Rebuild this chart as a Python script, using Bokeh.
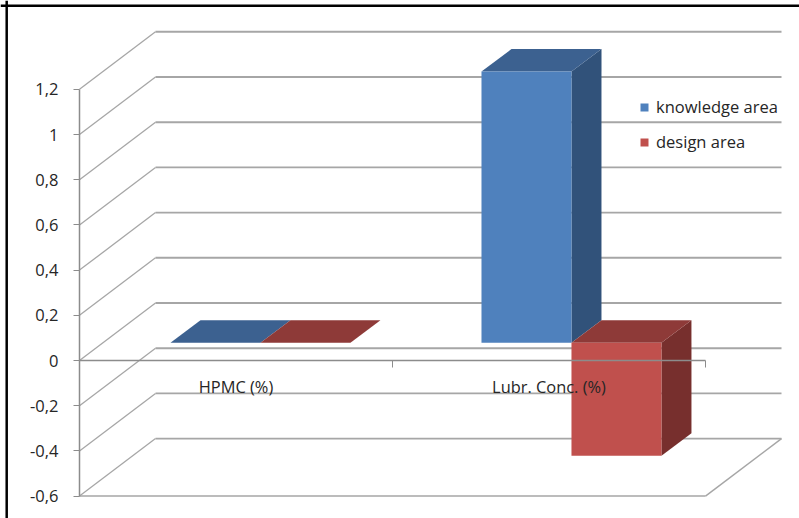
from bokeh.plotting import figure
from bokeh.models import FixedTicker, Range1d, Span, Legend, LegendItem, LinearAxis
from bokeh.embed import file_html
from bokeh.resources import INLINE

categories = ["HPMC (%)", "Lubr. Conc. (%)"]
knowledge_area = [0, 1.2]
design_area = [0, -0.5]
y_ticks = [-0.6, -0.4, -0.2, 0, 0.2, 0.4, 0.6, 0.8, 1, 1.2]
y_labels = ["-0,6", "-0,4", "-0,2", "0", "0,2", "0,4", "0,6", "0,8", "1", "1,2"]

W, H = 799, 518
PX_X = 313.0   # px per category
PX_Y = 226.0   # px per value unit
X0, Y0 = 79.0, 360.0
WALL_DX, WALL_DY = 76 / PX_X, 57.5 / PX_Y
BAR_START, BAR_W, BAR_STEP = 0.2907, 0.2875, 0.9936
BAR_DX, BAR_DY = 30.0 / PX_X, 22.5 / PX_Y
BASE_DY = 17.7 / PX_Y
BLUE, BLUE_TOP, BLUE_SIDE = "#4F81BD", "#3C6190", "#31527A"
RED, RED_TOP, RED_SIDE = "#C0504D", "#8E3A38", "#772F2D"
GRID = "#A6A6A6"
AXIS = "#8C8C8C"
FONT = "Open Sans"

p = figure(width=W, height=H, output_backend="svg", toolbar_location=None,
           x_range=Range1d(-X0 / PX_X, (W - X0) / PX_X),
           y_range=Range1d(-(H - Y0) / PX_Y, Y0 / PX_Y),
           x_axis_location=None, y_axis_location=None,
           min_border=0, margin=(0, 0, 0, 0), background_fill_color="white",
           border_fill_color="white", outline_line_color=None)
p.grid.visible = False

# walls
n = len(categories)
vs = y_ticks
p.segment(x0=[WALL_DX] * len(vs), x1=[n + WALL_DX] * len(vs),
          y0=[v + WALL_DY for v in vs], y1=[v + WALL_DY for v in vs],
          line_color=GRID, line_width=1.9)
p.segment(x0=[0] * len(vs), x1=[WALL_DX] * len(vs), y0=vs,
          y1=[v + WALL_DY for v in vs], line_color=GRID, line_width=1.3)
floor = min(vs)
p.segment(x0=[0, n], x1=[n, n + WALL_DX], y0=[floor, floor],
          y1=[floor, floor + WALL_DY], line_color=GRID, line_width=1.5)


def bar_geom(i, j, v):
    l = i * BAR_STEP + BAR_START + j * BAR_W
    r = l + BAR_W
    b = BASE_DY
    t = b + v
    top = max(b, t)
    bot = min(b, t)
    front = (l, r, top, bot)
    top_face = ([l, r, r + BAR_DX, l + BAR_DX], [top, top, top + BAR_DY, top + BAR_DY])
    side = ([r, r + BAR_DX, r + BAR_DX, r], [bot, bot + BAR_DY, top + BAR_DY, top])
    return front, top_face, side


renderers = []
for j, (vals, c, ct, cs) in enumerate([(knowledge_area, BLUE, BLUE_TOP, BLUE_SIDE),
                                       (design_area, RED, RED_TOP, RED_SIDE)]):
    fronts = [bar_geom(i, j, v) for i, v in enumerate(vals)]
    front = [f[0] for f in fronts]
    p.patches([f[2][0] for f in fronts], [f[2][1] for f in fronts],
              fill_color=cs, line_color=None)
    p.patches([f[1][0] for f in fronts], [f[1][1] for f in fronts],
              fill_color=ct, line_color=None)
    r = p.quad(left=[f[0] for f in front], right=[f[1] for f in front],
               top=[f[2] for f in front], bottom=[f[3] for f in front],
               fill_color=c, line_color=None)
    renderers.append(r)

# y axis
ya = LinearAxis(fixed_location=0, ticker=FixedTicker(ticks=y_ticks), bounds=(min(y_ticks), max(y_ticks)),
                major_label_overrides={v: s for v, s in zip(y_ticks, y_labels)})
ya.axis_line_color = AXIS
ya.axis_line_width = 1.5
ya.major_tick_line_color = AXIS
ya.major_tick_in = 0
ya.major_tick_out = 6
ya.minor_tick_line_color = None
ya.major_label_standoff = 15
ya.major_label_text_font = FONT
ya.major_label_text_font_size = "16.5px"
ya.major_label_text_color = "#262626"
p.add_layout(ya, "left")

# x axis
centers = [i + 0.5 for i in range(n)]
xa = LinearAxis(fixed_location=0, bounds=(0, n),
                ticker=FixedTicker(ticks=centers, minor_ticks=list(range(n + 1))),
                major_label_overrides={c: s for c, s in zip(centers, categories)})
xa.axis_line_color = AXIS
xa.axis_line_width = 1.5
xa.major_tick_line_color = None
xa.major_tick_in = 0
xa.major_tick_out = 0
xa.minor_tick_line_color = AXIS
xa.minor_tick_in = 0
xa.minor_tick_out = 7
xa.major_label_standoff = 7
xa.major_label_text_font = FONT
xa.major_label_text_font_size = "16.4px"
xa.major_label_text_color = "#262626"
p.add_layout(xa, "below")

# image frame
p.add_layout(Span(location=(6.2 - X0) / PX_X, dimension="height", line_color="#000000", line_width=2.5))
p.add_layout(Span(location=(Y0 - 5.3) / PX_Y, dimension="width", line_color="#000000", line_width=2.5))

legend = Legend(items=[LegendItem(label="knowledge area", renderers=[renderers[0]]),
                       LegendItem(label="design area", renderers=[renderers[1]])],
                location=(639, H - 153), orientation="vertical", padding=0, margin=0,
                border_line_color=None, background_fill_alpha=0,
                glyph_width=10, glyph_height=10, label_standoff=7, spacing=12,
                label_height=20, label_text_font=FONT, label_text_font_size="16.5px",
                label_text_color="#262626")
p.add_layout(legend, "center")

open("out.html", "w").write(file_html(p, INLINE))
